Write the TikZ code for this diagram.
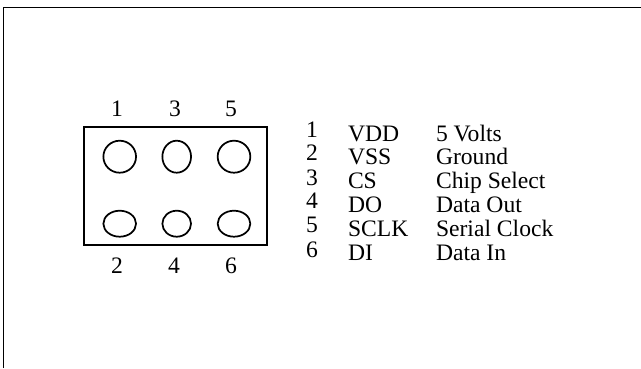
\documentclass[tikz,border=0pt]{standalone}
\usepackage{fontspec}
\setmainfont{Liberation Serif}
\usetikzlibrary{shapes.geometric}
\tikzset{
  lbl/.style={inner sep=0pt,outer sep=0pt,font=\fontsize{17.7}{18}\selectfont},
  rowtext/.style={lbl,anchor=base west},
  pin/.style={draw=black,line width=1.3pt,ellipse,inner sep=0pt,outer sep=0pt},
  frameline/.style={draw=black,line width=0.9pt},
}
\begin{document}
\begin{tikzpicture}[x=0.75pt,y=-0.75pt]
\useasboundingbox[fill=white] (0,0) rectangle (641,368);
\coordinate (fa) at (3.5,368);
\coordinate (fb) at (3.5,7.5);
\coordinate (fc) at (641,7.5);
\draw[frameline] (fa) -- (fb) -- (fc);
\node[draw=black,line width=1.5pt,minimum width=136.9pt,minimum height=88.2pt,inner sep=0pt,outer sep=0pt] (box) at (175.5,186.2) {};
\foreach \n/\cx/\cy/\w/\h in {p1/119.7/156.7/24.5/24,p3/176.7/156.7/21.5/24,p5/234/156.7/24.5/24,p2/119.7/223.7/24.5/19.5,p4/176.7/223.7/21.5/19.5,p6/234/223.7/24.5/19.5}{
  \node[pin,minimum width=\w pt,minimum height=\h pt] (\n) at (\cx,\cy) {};
}
\foreach \n/\t/\cx/\cy in {t1/1/117/116,t3/3/175/116,t5/5/231/116,t2/2/117/273,t4/4/174/273,t6/6/231/273}{
  \node[lbl,anchor=base] (\n) at (\cx,\cy) {\t};
}
\foreach \a/\y in {1/137,2/160,3/185,4/208,5/232,6/257}{
  \node[rowtext] (n\a) at (306,\y) {\a};
}
\foreach \i/\b/\y in {1/VDD/141,2/VSS/164,3/CS/188,4/DO/212,5/SCLK/236,6/DI/260}{
  \node[rowtext] (s\i) at (348,\y) {\b};
}
\foreach \i/\c/\y in {1/5 Volts/141,2/Ground/164,3/Chip Select/188,4/Data Out/212,5/Serial Clock/236,6/Data In/260}{
  \node[rowtext] (d\i) at (436,\y) {\c};
}
\end{tikzpicture}
\end{document}
